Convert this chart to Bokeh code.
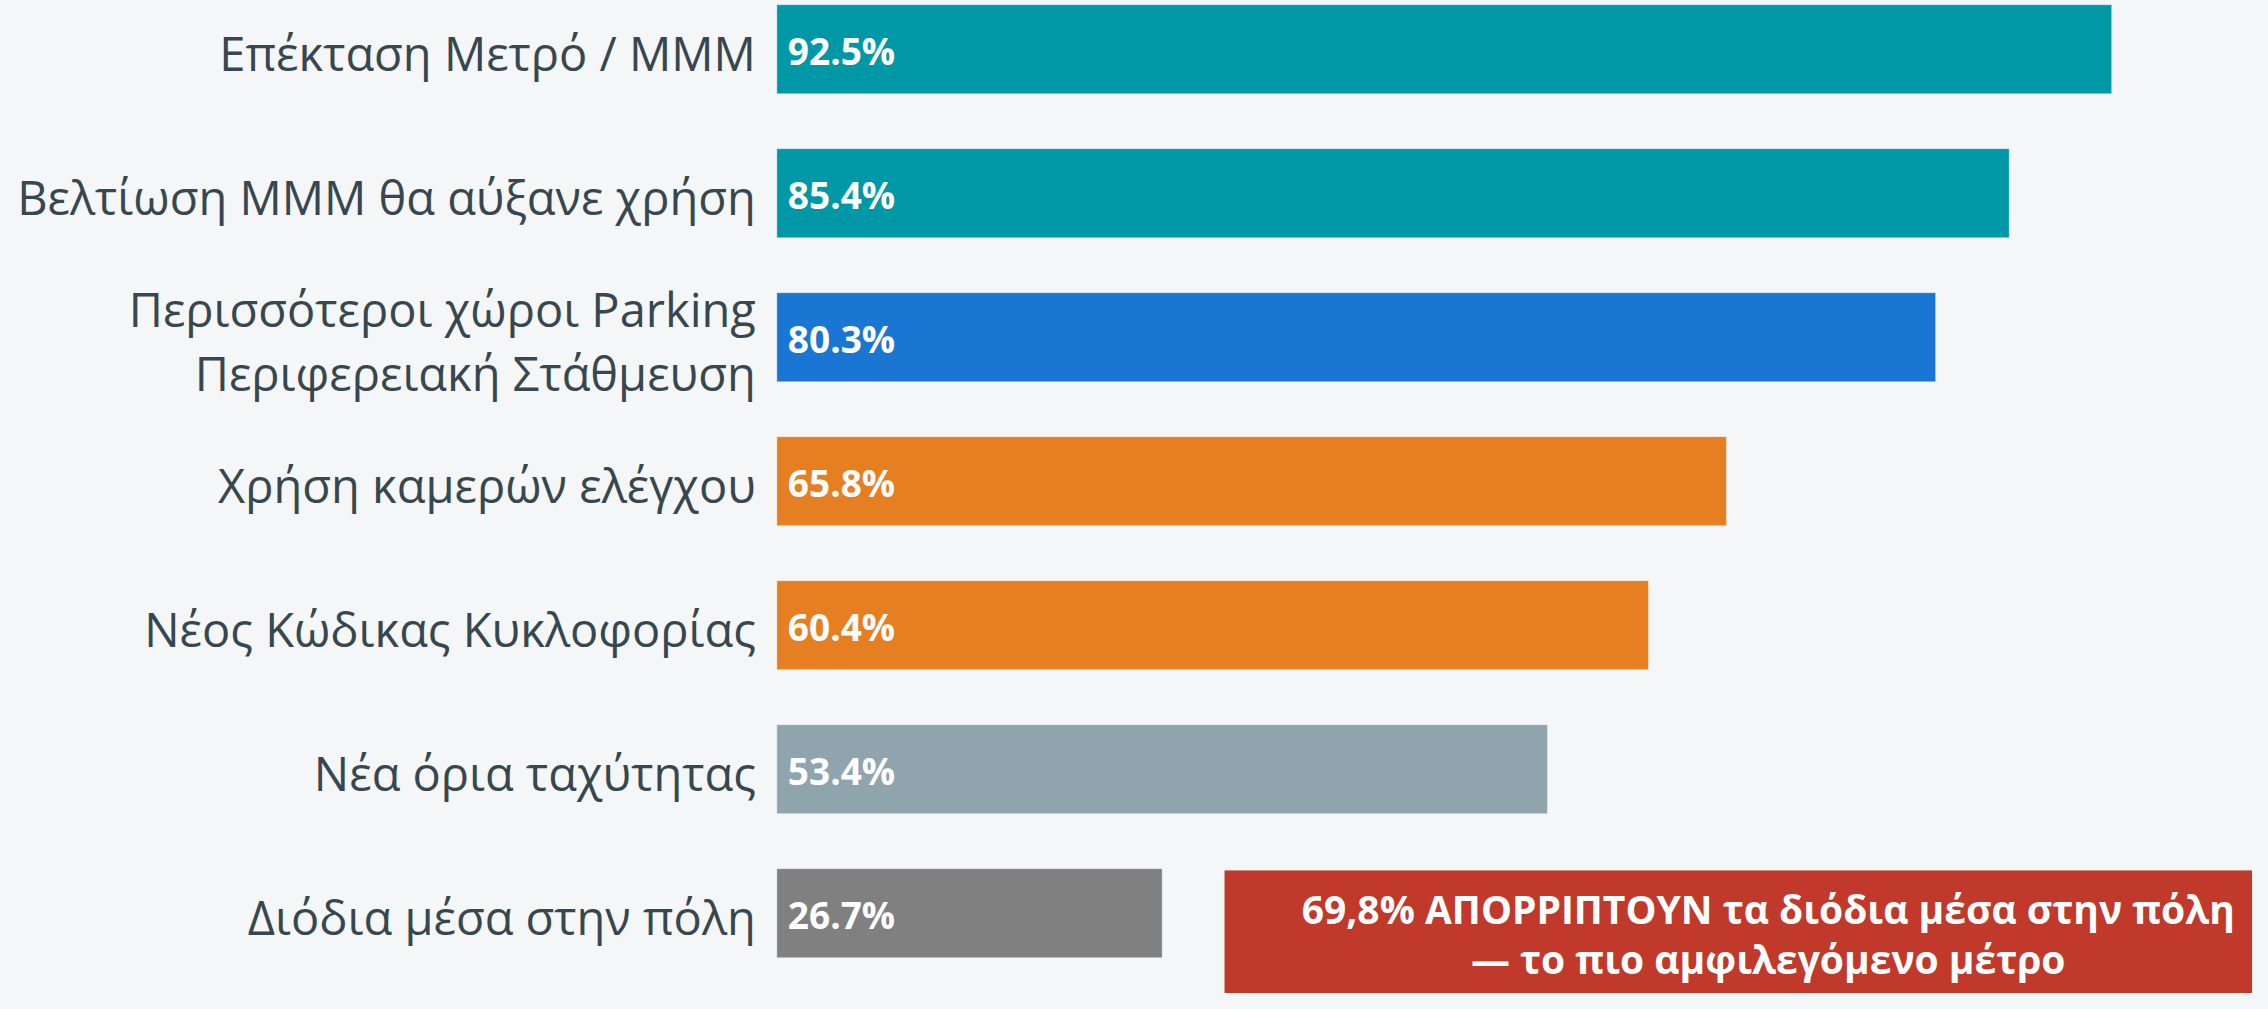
from bokeh.plotting import figure
from bokeh.models import ColumnDataSource, Range1d, BoxAnnotation, Label, GlobalInlineStyleSheet
from bokeh.core.properties import value
from bokeh.embed import file_html
from bokeh.resources import INLINE

# ---- data ----
categories = [
    "Επέκταση Μετρό / ΜΜΜ",
    "Βελτίωση ΜΜΜ θα αύξανε χρήση",
    "Περισσότεροι χώροι Parking\nΠεριφερειακή Στάθμευση",
    "Χρήση καμερών ελέγχου",
    "Νέος Κώδικας Κυκλοφορίας",
    "Νέα όρια ταχύτητας",
    "Διόδια μέσα στην πόλη",
]
values = [92.5, 85.4, 80.3, 65.8, 60.4, 53.4, 26.7]
colors = ["#0097a7", "#0097a7", "#1976d2", "#e67e22", "#e67e22", "#90a4ae", "#808080"]
callout_line1 = "69,8% ΑΠΟΡΡΙΠΤΟΥΝ τα διόδια μέσα στην πόλη"
callout_line2 = "— το πιο αμφιλεγόμενο μέτρο"

# ---- layout ----
BG = "#f4f6f8"
TEXT = "#37474f"
W, H = 2252, 993
x_start, x_end = -53.80, 102.26
y_start, y_end = -0.558, 6.338

n = len(categories)
ys = [n - 1 - i for i in range(n)]
value_labels = [f"{v:.1f}%" for v in values]

src = ColumnDataSource(dict(y=ys, v=values, c=colors, cat=categories,
                            lab=value_labels, zero=[0] * n))

p = figure(width=W, height=H,
           x_range=Range1d(x_start, x_end), y_range=Range1d(y_start, y_end),
           output_backend="svg", toolbar_location=None, min_border=0,
           background_fill_color=BG, border_fill_color=BG,
           outline_line_color=None)
p.axis.visible = False
p.grid.visible = False
p.stylesheets = [GlobalInlineStyleSheet(css="html,body{background:#f4f6f8;}")]

p.hbar(y="y", left=0, right="v", height=0.618, fill_color="c",
       line_color="white", line_alpha=0.35, line_width=1, source=src)

p.text(x="zero", y="y", text="cat", source=src,
       text_align="right", text_baseline="middle", x_offset=-21, y_offset=4,
       text_font=value("Open Sans"), text_font_size="47px",
       text_color=TEXT, text_line_height=1.0)

p.text(x="zero", y="y", text="lab", source=src,
       text_align="left", text_baseline="middle", x_offset=11, y_offset=1,
       text_font=value("Open Sans"), text_font_size="37px",
       text_font_style="bold", text_color="white")

box = BoxAnnotation(left=31.03, top=0.296, fill_color="#c0392b", fill_alpha=1.0,
                    line_color="#d46a5f", line_width=1, level="overlay")
p.add_layout(box)

for txt, yy in [(callout_line1, 0.032), (callout_line2, -0.318)]:
    p.add_layout(Label(x=68.70, y=yy, text=txt, text_align="center",
                       text_baseline="alphabetic",
                       text_font="Open Sans", text_font_size="39px",
                       text_font_style="bold", text_color="white", level="overlay"))

open("out.html", "w").write(file_html(p, INLINE))
